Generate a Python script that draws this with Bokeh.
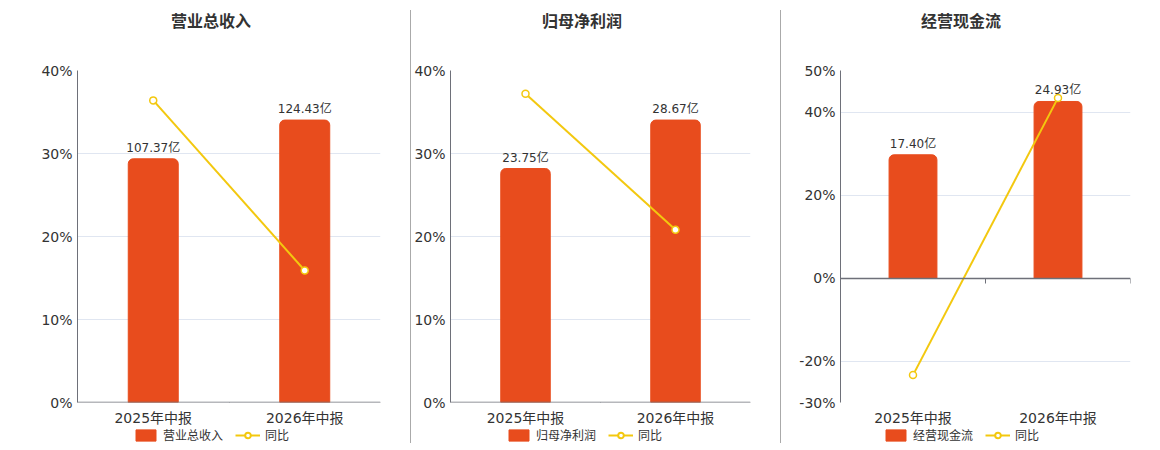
from bokeh.plotting import figure
from bokeh.models import (Range1d, LinearAxis, FixedTicker, Legend, LegendItem, Div,
                          PrintfTickFormatter, CustomJSTickFormatter)
from bokeh.layouts import row, column
from bokeh.embed import file_html
from bokeh.resources import INLINE
from bokeh.core.properties import value

# ---------------- data ----------------
periods = ["2025年中报", "2026年中报"]
titles = ["营业总收入", "归母净利润", "经营现金流"]
revenue = [107.37, 124.43]
revenue_yoy = [36.4, 15.9]
profit = [23.75, 28.67]
profit_yoy = [37.2, 20.8]
cashflow = [17.40, 24.93]
cashflow_yoy = [-23.4, 43.4]
pct_ticks_a = [0, 10, 20, 30, 40]
pct_ticks_b = [-30, -20, 0, 20, 40, 50]
legend_yoy = "同比"
unit = "亿"

# ---------------- style ----------------
FONT = "DejaVu Sans, Noto Sans CJK SC"
BAR = "#e84c1d"
YEL = "#f3c80f"
AXIS = "#6e7079"
GRID = "#e0e6f1"
TXT = "#333333"


def make_panel(title, amounts, yoy, yticks, width, left, right, title_offset, legend_x):
    n = len(periods)
    xs = [i + 0.5 for i in range(n)]
    ymin, ymax = min(yticks), max(yticks)
    bar_end = max(amounts) * 1.1755
    bar_start = bar_end * ymin / ymax

    # title as a text block above the chart
    tx = left + title_offset
    head = Div(text=title, width=width - tx, height=20, margin=(12, 0, 0, tx),
               styles={"font-family": FONT, "font-size": "16px", "font-weight": "bold",
                       "color": TXT, "line-height": "20px", "white-space": "nowrap"})

    p = figure(width=width, height=396, x_range=Range1d(0, n), y_range=Range1d(ymin, ymax),
               output_backend="svg", toolbar_location=None, x_axis_type=None, title=None,
               min_border_left=left, min_border_right=right, min_border_top=38,
               min_border_bottom=23)
    p.extra_y_ranges = {"bars": Range1d(bar_start, bar_end)}
    p.outline_line_color = None
    p.background_fill_color = "white"
    p.border_fill_color = "white"

    # y axis
    ya = p.yaxis[0]
    ya.ticker = FixedTicker(ticks=yticks)
    ya.formatter = PrintfTickFormatter(format="%d%%")
    ya.axis_line_color = AXIS
    ya.major_tick_line_color = None
    ya.major_tick_out = 0
    ya.major_tick_in = 0
    ya.minor_tick_line_color = None
    ya.minor_tick_out = 0
    ya.minor_tick_in = 0
    ya.major_label_text_font = FONT
    ya.major_label_text_font_size = "14px"
    ya.major_label_text_color = TXT
    ya.major_label_standoff = 5
    p.ygrid.ticker = FixedTicker(ticks=yticks)
    p.ygrid.grid_line_color = GRID

    # x axis line at zero with boundary ticks (no labels)
    ax_line = LinearAxis(ticker=FixedTicker(ticks=list(range(n + 1))),
                         formatter=CustomJSTickFormatter(code="return ''"),
                         fixed_location=0, major_tick_out=0, major_tick_in=5,
                         major_label_standoff=0,
                         axis_line_color=AXIS, axis_line_width=1.5,
                         major_tick_line_color=AXIS, minor_tick_line_color=None)
    p.add_layout(ax_line, "above")
    # category labels below the frame
    ax_lab = LinearAxis(ticker=FixedTicker(ticks=xs),
                        formatter=CustomJSTickFormatter(args=dict(labels=periods),
                                                        code="return labels[Math.floor(tick)]"),
                        axis_line_color=None, major_tick_line_color=None,
                        major_tick_out=0, major_tick_in=0,
                        minor_tick_line_color=None, major_label_standoff=7,
                        major_label_text_font=FONT, major_label_text_font_size="14px",
                        major_label_text_color=TXT)
    p.add_layout(ax_lab, "below")

    p.vbar(x=xs, top=amounts, bottom=0, width=0.33, y_range_name="bars",
           fill_color=BAR, line_color=BAR, border_radius=(5, 5, 0, 0))
    p.text(x=xs, y=amounts, text=[f"{v:.2f}{unit}" for v in amounts], y_range_name="bars",
           text_align="center", text_baseline="bottom", y_offset=-4,
           text_font=value(FONT), text_font_size="12px", text_color=TXT)
    p.line(x=xs, y=yoy, line_color=YEL, line_width=2)
    p.scatter(x=xs, y=yoy, marker="circle", size=7, fill_color="white",
              line_color=YEL, line_width=1.5)

    # legend strip below the chart (its renderers fall outside its own ranges,
    # only their legend glyphs are seen)
    far = 10 * max(abs(v) for v in amounts + yoy)
    lf = figure(width=width, height=17, x_range=Range1d(-2 * n, -n),
                y_range=Range1d(-2 * far, -far),
                output_backend="svg", toolbar_location=None, title=None,
                x_axis_type=None, y_axis_type=None, min_border=0)
    lf.outline_line_color = None
    lf.xgrid.visible = False
    lf.ygrid.visible = False
    lbar = lf.vbar(x=xs, top=amounts, bottom=0, width=0.3, fill_color=BAR, line_color=BAR,
                   border_radius=3)
    lln = lf.line(x=xs, y=yoy, line_color=YEL, line_width=2)
    lpt = lf.scatter(x=xs, y=yoy, marker="circle", size=10, fill_color="white",
                     line_color=YEL, line_width=2)
    legend = Legend(items=[LegendItem(label=title, renderers=[lbar]),
                           LegendItem(label=legend_yoy, renderers=[lln, lpt])],
                    orientation="horizontal", location=(legend_x, 2),
                    border_line_color=None, background_fill_alpha=0,
                    padding=0, margin=0, spacing=12, label_standoff=5,
                    glyph_width=25, glyph_height=14, label_height=14,
                    label_text_font=FONT, label_text_font_size="12px",
                    label_text_color=TXT)
    lf.add_layout(legend, "center")
    return column(head, p, lf, spacing=0)


p1 = make_panel(titles[0], revenue, revenue_yoy, pct_ticks_a, 410, 77, 30, 94, 56)
p2 = make_panel(titles[1], profit, profit_yoy, pct_ticks_a, 369, 36, 30, 95, 56)
p3 = make_panel(titles[2], cashflow, cashflow_yoy, pct_ticks_b, 371, 59, 22, 81, 43)

sep1 = Div(width=1, height=433, styles={"background-color": "#aaaaaa"}, margin=(10, 0, 0, 0))
sep2 = Div(width=1, height=433, styles={"background-color": "#aaaaaa"}, margin=(10, 0, 0, 0))

layout = row(p1, sep1, p2, sep2, p3)
open("out.html", "w").write(file_html(layout, INLINE))
